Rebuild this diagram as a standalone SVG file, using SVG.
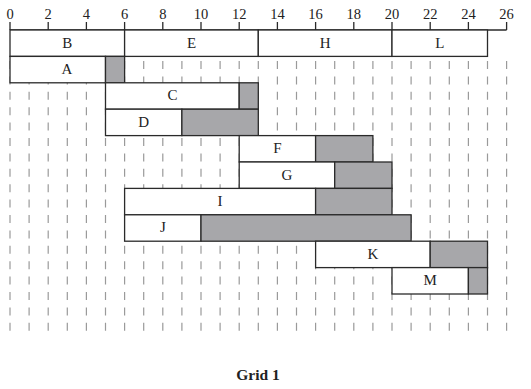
<svg xmlns="http://www.w3.org/2000/svg" width="531" height="389" viewBox="0 0 531 389">
<style>
.grid{stroke:#9a9a9a;stroke-width:1.2;stroke-dasharray:8 7.4;fill:none}
.ax{stroke:#2a2a2a;stroke-width:1.3;fill:none}
.w{fill:#fff;stroke:#2a2a2a;stroke-width:1.3}
.g{fill:#a7a7aa;stroke:#2a2a2a;stroke-width:1.3}
.num{font-family:"Liberation Serif","Times New Roman",serif;font-size:14.5px;fill:#222;text-anchor:middle}
.lbl{font-family:"Liberation Serif","Times New Roman",serif;font-size:15px;fill:#222;text-anchor:middle}
.ttl{font-family:"Liberation Serif","Times New Roman",serif;font-size:15.5px;font-weight:bold;fill:#222;text-anchor:middle}
</style>
<rect width="531" height="389" fill="#fff"/>
<g id="gridlines" class="grid">
<path d="M10 61V333M29.1 61V333M48.2 61V333M67.3 61V333M86.4 61V333M105.5 61V333M124.6 61V333M143.7 61V333M162.8 61V333M181.9 61V333M201 61V333M220.1 61V333M239.2 61V333M258.3 61V333M277.4 61V333M296.5 61V333M315.6 61V333M334.7 61V333M353.8 61V333M372.9 61V333M392 61V333M411.1 61V333M430.2 61V333M449.3 61V333M468.4 61V333M487.5 61V333M506.6 61V333"/>
</g>
<g id="axis">
<path class="ax" d="M10 30H506.6M10 22V30M48.2 22V30M86.4 22V30M124.6 22V30M162.8 22V30M201 22V30M239.2 22V30M277.4 22V30M315.6 22V30M353.8 22V30M392 22V30M430.2 22V30M468.4 22V30M506.6 22V30"/>
<text class="num" x="10" y="18.5">0</text>
<text class="num" x="48.2" y="18.5">2</text>
<text class="num" x="86.4" y="18.5">4</text>
<text class="num" x="124.6" y="18.5">6</text>
<text class="num" x="162.8" y="18.5">8</text>
<text class="num" x="201" y="18.5">10</text>
<text class="num" x="239.2" y="18.5">12</text>
<text class="num" x="277.4" y="18.5">14</text>
<text class="num" x="315.6" y="18.5">16</text>
<text class="num" x="353.8" y="18.5">18</text>
<text class="num" x="392" y="18.5">20</text>
<text class="num" x="430.2" y="18.5">22</text>
<text class="num" x="468.4" y="18.5">24</text>
<text class="num" x="506.6" y="18.5">26</text>
</g>
<g id="B"><rect class="w" x="10" y="30" width="114.6" height="26.4"/><text class="lbl" x="67.3" y="47.6">B</text></g>
<g id="E"><rect class="w" x="124.6" y="30" width="133.7" height="26.4"/><text class="lbl" x="191.5" y="47.6">E</text></g>
<g id="H"><rect class="w" x="258.3" y="30" width="133.7" height="26.4"/><text class="lbl" x="325.1" y="47.6">H</text></g>
<g id="L"><rect class="w" x="392" y="30" width="95.5" height="26.4"/><text class="lbl" x="439.8" y="47.6">L</text></g>
<g id="A"><rect class="w" x="10" y="56.4" width="95.5" height="26.4"/><rect class="g" x="105.5" y="56.4" width="19.1" height="26.4"/><text class="lbl" x="67" y="74">A</text></g>
<g id="C"><rect class="w" x="105.5" y="82.8" width="133.7" height="26.4"/><rect class="g" x="239.2" y="82.8" width="19.1" height="26.4"/><text class="lbl" x="172.4" y="100.4">C</text></g>
<g id="D"><rect class="w" x="105.5" y="109.2" width="76.4" height="26.4"/><rect class="g" x="181.9" y="109.2" width="76.4" height="26.4"/><text class="lbl" x="143.7" y="126.8">D</text></g>
<g id="F"><rect class="w" x="239.2" y="135.6" width="76.4" height="26.4"/><rect class="g" x="315.6" y="135.6" width="57.3" height="26.4"/><text class="lbl" x="277.4" y="153.2">F</text></g>
<g id="G"><rect class="w" x="239.2" y="162" width="95.5" height="26.4"/><rect class="g" x="334.7" y="162" width="57.3" height="26.4"/><text class="lbl" x="287" y="179.6">G</text></g>
<g id="I"><rect class="w" x="124.6" y="188.4" width="191" height="26.4"/><rect class="g" x="315.6" y="188.4" width="76.4" height="26.4"/><text class="lbl" x="220.1" y="206">I</text></g>
<g id="J"><rect class="w" x="124.6" y="214.8" width="76.4" height="26.4"/><rect class="g" x="201" y="214.8" width="210.1" height="26.4"/><text class="lbl" x="162.8" y="232.4">J</text></g>
<g id="K"><rect class="w" x="315.6" y="241.2" width="114.6" height="26.4"/><rect class="g" x="430.2" y="241.2" width="57.3" height="26.4"/><text class="lbl" x="372.9" y="258.8">K</text></g>
<g id="M"><rect class="w" x="392" y="267.6" width="76.4" height="26.4"/><rect class="g" x="468.4" y="267.6" width="19.1" height="26.4"/><text class="lbl" x="430.2" y="285.2">M</text></g>
<text class="ttl" x="258" y="380">Grid 1</text>
</svg>
